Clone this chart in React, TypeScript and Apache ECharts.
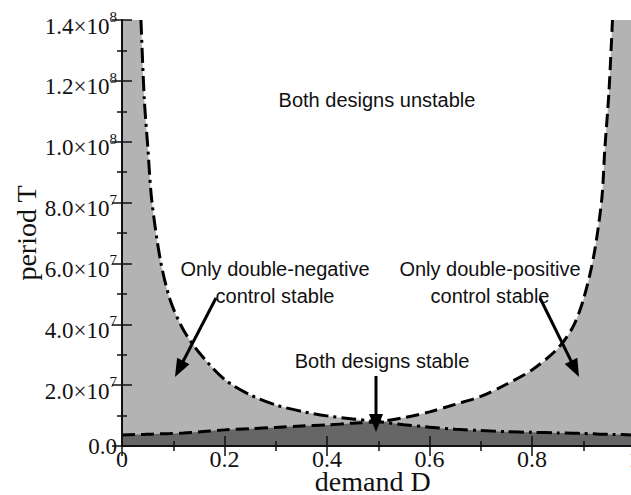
import React, { useEffect, useRef } from "react";
import * as echarts from "echarts";

// demand D sample points (x)
const demandD = [
  0, 0.037, 0.0435, 0.05, 0.058, 0.075, 0.094, 0.12, 0.15, 0.2, 0.25, 0.3, 0.35, 0.4, 0.45, 0.5,
  0.55, 0.6, 0.65, 0.7, 0.75, 0.8, 0.85, 0.88, 0.9, 0.92, 0.936, 0.942, 0.95, 0.957, 1.0,
];
// dash-dot boundary: double-negative control stability limit (period T)
const negBoundaryT = [
  null, 14.0e7, 11.4e7, 9.9e7, 8.09e7, 6.1e7, 4.8e7, 3.81e7, 3.08e7, 2.19e7, 1.68e7, 1.35e7, 1.14e7,
  0.99e7, 0.89e7, 0.8e7, 0.7e7, 0.62e7, 0.55e7, 0.51e7, 0.47e7, 0.45e7, 0.43e7, 0.42e7, 0.41e7,
  0.4e7, 0.39e7, 0.39e7, 0.38e7, 0.38e7, 0.36e7,
];
// dashed boundary: double-positive control stability limit (period T)
const posBoundaryT = [
  0.36e7, 0.38e7, 0.38e7, 0.39e7, 0.39e7, 0.4e7, 0.41e7, 0.43e7, 0.46e7, 0.53e7, 0.57e7, 0.61e7,
  0.66e7, 0.69e7, 0.75e7, 0.8e7, 0.93e7, 1.12e7, 1.37e7, 1.63e7, 2.03e7, 2.5e7, 3.2e7, 3.92e7,
  4.8e7, 6.2e7, 8.09e7, 9.74e7, 11.6e7, 14.0e7, null,
];

const xMin = 0;
const xMax = 1;
const xInterval = 0.2;
const yMin = 0;
const yMax = 1.4e8;
const yInterval = 2e7;

const regionLabels = {
  unstable: "Both designs unstable",
  negOnly: "Only double-negative\ncontrol stable",
  posOnly: "Only double-positive\ncontrol stable",
  stable: "Both designs stable",
};

const SERIF = "'Liberation Serif', 'Times New Roman', serif";
const SANS = "'Liberation Sans', Arial, sans-serif";
const INK = "#111";

function arrow(x1: number, y1: number, x2: number, y2: number) {
  const len = Math.hypot(x2 - x1, y2 - y1);
  const ux = (x2 - x1) / len;
  const uy = (y2 - y1) / len;
  const headLen = 18;
  const halfW = 7;
  const bx = x2 - ux * headLen;
  const by = y2 - uy * headLen;
  return [
    {
      type: "line",
      z: 20,
      shape: { x1, y1, x2: bx + ux * 2, y2: by + uy * 2 },
      style: { stroke: "#000", lineWidth: 3 },
    },
    {
      type: "polygon",
      z: 20,
      shape: {
        points: [
          [x2, y2],
          [bx - uy * halfW, by + ux * halfW],
          [bx + uy * halfW, by - ux * halfW],
        ],
      },
      style: { fill: "#000" },
    },
  ];
}

export default function App() {
  const ref = useRef<HTMLDivElement>(null);

  useEffect(() => {
    document.body.style.margin = "0";
    if (!ref.current) return;
    const chart = echarts.init(ref.current, undefined, { renderer: "svg" });

    const negLine = demandD
      .map((d, i) => [d, negBoundaryT[i]])
      .filter((p) => p[1] != null);
    const posLine = demandD
      .map((d, i) => [d, posBoundaryT[i]])
      .filter((p) => p[1] != null);
    const upper = demandD
      .map((d, i) =>
        negBoundaryT[i] != null && posBoundaryT[i] != null
          ? [d, Math.max(negBoundaryT[i] as number, posBoundaryT[i] as number)]
          : null
      )
      .filter((p) => p != null);
    const lower = demandD.map((d, i) => {
      const a = negBoundaryT[i];
      const b = posBoundaryT[i];
      const v = a == null ? b : b == null ? a : Math.min(a, b);
      return [d, v];
    });

    const axisLine = { show: true, lineStyle: { color: INK, width: 2 } };
    const axisTick = { show: true, inside: true, length: 10, lineStyle: { color: INK, width: 1.5 } };
    const minorTick = { show: true, splitNumber: 2, length: 5, lineStyle: { color: INK, width: 1.5 } };

    const xFormatter = (v: number) => (v === 0 || v === 1 ? String(v) : v.toFixed(1));
    const yFormatter = (v: number) => {
      if (v === 0) return "{z|0.0}";
      const exp = Math.floor(Math.log10(v) + 1e-9);
      const mant = (v / Math.pow(10, exp)).toFixed(1);
      return `{m|${mant}×10}{e|${exp}}`;
    };

    const smooth = 0.3;

    chart.setOption({
      animation: false,
      grid: {
        left: 122,
        right: -3.5,
        top: 20,
        bottom: 49,
        show: true,
        backgroundColor: "#b3b3b3",
        borderWidth: 0,
        containLabel: false,
        outerBoundsMode: "none",
      },
      xAxis: [
        {
          type: "value",
          min: xMin,
          max: xMax,
          interval: xInterval,
          position: "bottom",
          name: "demand D",
          nameLocation: "middle",
          nameGap: 25,
          nameMoveOverlap: false,
          nameTextStyle: {
            fontFamily: SERIF,
            fontSize: 28,
            lineHeight: 20,
            color: INK,
            padding: [0, 11, 0, 0],
          },
          axisLine,
          axisTick,
          minorTick,
          splitLine: { show: false },
          minorSplitLine: { show: false },
          axisLabel: {
            fontFamily: SERIF,
            fontSize: 24,
            lineHeight: 20,
            color: INK,
            margin: 3,
            formatter: xFormatter,
          },
          z: 5,
        },
        {
          type: "value",
          min: xMin,
          max: xMax,
          interval: xInterval,
          position: "top",
          axisLine,
          axisTick,
          minorTick,
          splitLine: { show: false },
          axisLabel: { show: false },
          z: 5,
        },
      ],
      yAxis: [
        {
          type: "value",
          min: yMin,
          max: yMax,
          interval: yInterval,
          position: "left",
          name: "period T",
          nameLocation: "middle",
          nameGap: 82,
          nameMoveOverlap: false,
          nameRotate: 90,
          nameTextStyle: { fontFamily: SERIF, fontSize: 28, color: INK },
          axisLine,
          axisTick,
          minorTick,
          splitLine: { show: false },
          minorSplitLine: { show: false },
          axisLabel: {
            margin: 5,
            color: INK,
            fontFamily: SERIF,
            formatter: yFormatter,
            rich: {
              z: { fontFamily: SERIF, fontSize: 23, lineHeight: 23, color: INK },
              m: {
                fontFamily: SERIF,
                fontSize: 23,
                lineHeight: 23,
                color: INK,
                padding: [12, 0, 0, 0],
              },
              e: {
                fontFamily: SERIF,
                fontSize: 15,
                lineHeight: 15,
                color: INK,
                padding: [0, 0, 6, 0],
              },
            },
          },
          z: 5,
        },
        {
          type: "value",
          min: yMin,
          max: yMax,
          interval: yInterval,
          position: "right",
          axisLine,
          axisTick,
          minorTick,
          splitLine: { show: false },
          axisLabel: { show: false },
          z: 5,
        },
      ],
      series: [
        {
          name: "unstable region",
          type: "line",
          data: upper,
          smooth,
          symbol: "none",
          lineStyle: { width: 0, opacity: 0 },
          areaStyle: { color: "#ffffff", opacity: 1, origin: "end" },
          silent: true,
          z: 1,
        },
        {
          name: "stable region",
          type: "line",
          data: lower,
          smooth,
          symbol: "none",
          lineStyle: { width: 0, opacity: 0 },
          areaStyle: { color: "#666666", opacity: 1, origin: "start" },
          silent: true,
          z: 1,
        },
        {
          name: "double-negative boundary",
          type: "line",
          data: negLine,
          smooth,
          symbol: "none",
          lineStyle: { color: "#000", width: 3, type: [15, 5, 3, 5], cap: "butt" },
          z: 3,
        },
        {
          name: "double-positive boundary",
          type: "line",
          data: posLine,
          smooth,
          symbol: "none",
          lineStyle: { color: "#000", width: 3, type: [13, 6], cap: "butt" },
          z: 3,
        },
      ],
      graphic: [
        {
          type: "text",
          z: 20,
          x: 377,
          y: 100,
          style: {
            text: regionLabels.unstable,
            fontFamily: SANS,
            fontSize: 20,
            fill: INK,
            align: "center",
            verticalAlign: "middle",
          },
        },
        {
          type: "text",
          z: 20,
          x: 275,
          y: 282,
          style: {
            text: regionLabels.negOnly,
            fontFamily: SANS,
            fontSize: 20,
            lineHeight: 27,
            fill: INK,
            align: "center",
            verticalAlign: "middle",
          },
        },
        {
          type: "text",
          z: 20,
          x: 490,
          y: 282,
          style: {
            text: regionLabels.posOnly,
            fontFamily: SANS,
            fontSize: 20,
            lineHeight: 27,
            fill: INK,
            align: "center",
            verticalAlign: "middle",
          },
        },
        {
          type: "text",
          z: 20,
          x: 382,
          y: 361,
          style: {
            text: regionLabels.stable,
            fontFamily: SANS,
            fontSize: 20,
            fill: INK,
            align: "center",
            verticalAlign: "middle",
          },
        },
        ...arrow(216, 298, 175, 377),
        ...arrow(540, 298, 579, 377),
        ...arrow(376, 376, 376, 432),
      ],
    });

    return () => chart.dispose();
  }, []);

  return <div ref={ref} style={{ width: 631, height: 495 }} />;
}
